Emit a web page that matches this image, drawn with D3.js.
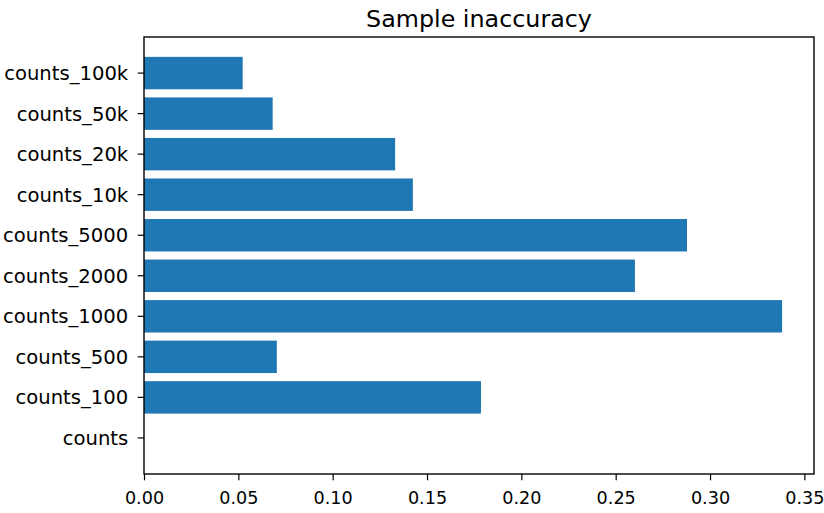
<!DOCTYPE html>
<html>
<head>
  <meta charset="utf-8">
  <script src="https://d3js.org/d3.v7.min.js"></script>
  <style>
    body { margin: 0; background: #fff; }
    text { font-family: "DejaVu Sans", sans-serif; fill: #000; }
  </style>
</head>
<body>
  <svg id="viz"></svg>
  <script>
    // data
    let categories = ["counts", "counts_100", "counts_500", "counts_1000", "counts_2000",
                      "counts_5000", "counts_10k", "counts_20k", "counts_50k", "counts_100k"];
    let values = [0, 0.1786, 0.0704, 0.3382, 0.2602, 0.2878, 0.1425, 0.1331, 0.0682, 0.0523];
    let xTicks = [0.00, 0.05, 0.10, 0.15, 0.20, 0.25, 0.30, 0.35];

    let width = 824, height = 513;
    let margin = {top: 37, right: 10, bottom: 39, left: 144};

    let svg = d3.select("#viz")
      .attr("width", width)
      .attr("height", height);

    // x scale, matplotlib adds 5% on top of the max
    let x = d3.scaleLinear()
      .domain([0, d3.max(values) * 1.05])
      .range([margin.left, width - margin.right]);

    // first category at the bottom
    let y = d3.scaleBand()
      .domain(categories.slice().reverse())
      .range([margin.top, height - margin.bottom])
      .paddingInner(0.2)
      .paddingOuter(0.49);

    // bars
    svg.selectAll("rect.bar")
      .data(categories)
      .enter()
      .append("rect")
      .attr("class", "bar")
      .attr("x", x(0))
      .attr("y", d => y(d))
      .attr("width", (d, i) => x(values[i]) - x(0))
      .attr("height", y.bandwidth())
      .attr("fill", "#1f77b4");

    // x axis
    let xAxis = svg.append("g")
      .attr("transform", `translate(0,${height - margin.bottom})`)
      .call(d3.axisBottom(x).tickValues(xTicks).tickFormat(d3.format(".2f")).tickSize(6.3).tickPadding(6));

    // y axis
    let yAxis = svg.append("g")
      .attr("transform", `translate(${margin.left},0)`)
      .call(d3.axisLeft(y).tickSize(6.3).tickPadding(9.5));

    [xAxis, yAxis].forEach(g => {
      g.select(".domain").remove();
      g.selectAll(".tick line").attr("stroke", "#000").attr("stroke-width", 1.2);
      g.selectAll(".tick text").attr("font-family", "DejaVu Sans").attr("fill", "#000");
    });
    xAxis.selectAll(".tick text").attr("font-size", 17.6).attr("dy", "0.98em");
    yAxis.selectAll(".tick text").attr("font-size", 19.6).attr("dy", "0.36em");

    // frame
    svg.append("rect")
      .attr("x", margin.left)
      .attr("y", margin.top)
      .attr("width", width - margin.left - margin.right)
      .attr("height", height - margin.top - margin.bottom)
      .attr("fill", "none")
      .attr("stroke", "#000")
      .attr("stroke-width", 1.4);

    // title
    svg.append("text")
      .attr("x", (margin.left + width - margin.right) / 2)
      .attr("y", margin.top - 10)
      .attr("text-anchor", "middle")
      .attr("font-size", 23.8)
      .text("Sample inaccuracy");
  </script>
</body>
</html>
